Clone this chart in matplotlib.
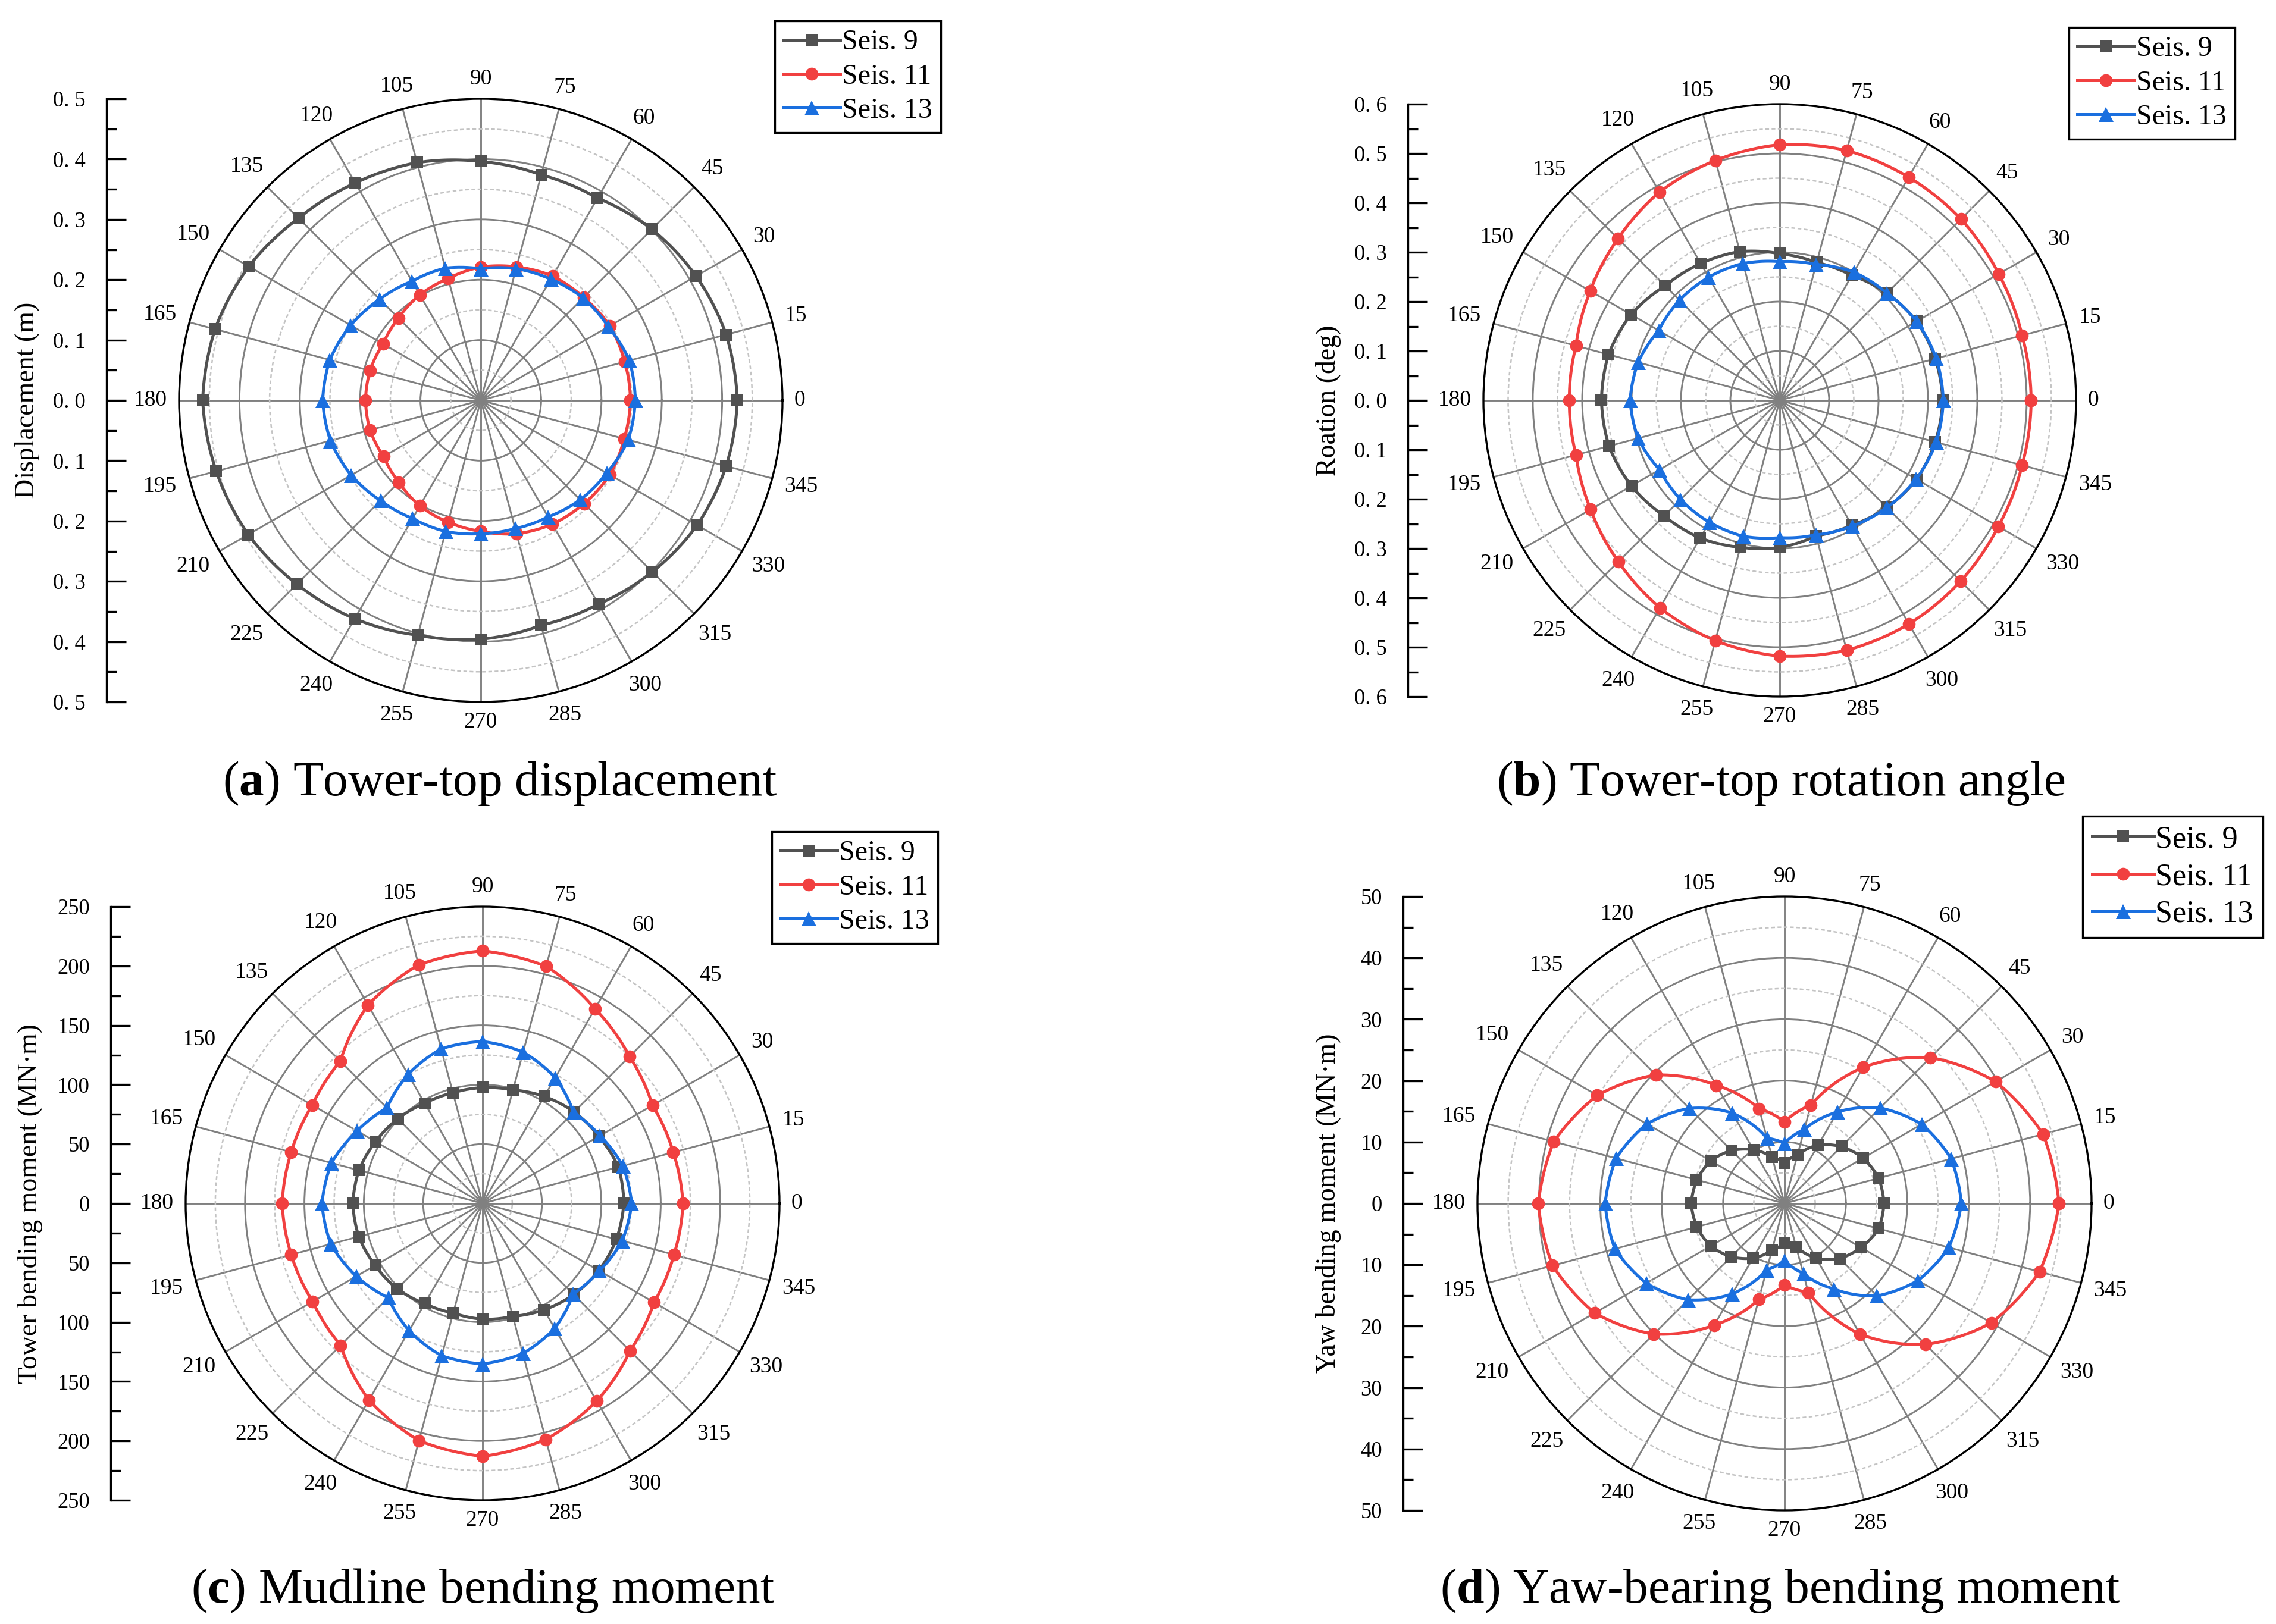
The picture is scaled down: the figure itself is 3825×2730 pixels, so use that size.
import numpy as np
import matplotlib
matplotlib.use('Agg')
import matplotlib.pyplot as plt

plt.rcParams['font.family'] = ['Liberation Serif', 'DejaVu Serif']
plt.rcParams['mathtext.fontset'] = 'custom'
plt.rcParams['mathtext.rm'] = 'Liberation Serif'
plt.rcParams['mathtext.bf'] = 'Liberation Serif:bold'

W, H, DPI = 3825, 2730, 300

# 方位角 (deg)
angles_deg = list(range(0, 360, 15))
series_names = ['Seis. 9', 'Seis. 11', 'Seis. 13']

# (a) 塔顶位移 (m)
disp_s9 = [0.425, 0.421, 0.412, 0.401, 0.387, 0.387, 0.396, 0.408, 0.416, 0.427, 0.444, 0.456,
           0.461, 0.454, 0.445, 0.431, 0.418, 0.403, 0.396, 0.386, 0.390, 0.402, 0.414, 0.421]
disp_s11 = [0.248, 0.247, 0.247, 0.241, 0.238, 0.229, 0.221, 0.209, 0.202, 0.193, 0.187, 0.190,
            0.191, 0.190, 0.186, 0.192, 0.202, 0.209, 0.217, 0.229, 0.237, 0.242, 0.247, 0.246]
disp_s13 = [0.256, 0.255, 0.244, 0.240, 0.232, 0.226, 0.218, 0.227, 0.228, 0.237, 0.249, 0.259,
            0.262, 0.258, 0.248, 0.235, 0.226, 0.225, 0.221, 0.220, 0.223, 0.233, 0.241, 0.253]

# (b) 塔顶转角 (deg)
rot_s9 = [0.330, 0.326, 0.320, 0.307, 0.292, 0.289, 0.297, 0.312, 0.320, 0.328, 0.348, 0.359,
          0.361, 0.358, 0.347, 0.331, 0.322, 0.308, 0.298, 0.284, 0.292, 0.307, 0.320, 0.326]
rot_s11 = [0.509, 0.508, 0.512, 0.519, 0.522, 0.524, 0.518, 0.503, 0.487, 0.463, 0.443, 0.427,
           0.426, 0.427, 0.442, 0.462, 0.485, 0.504, 0.518, 0.524, 0.523, 0.518, 0.511, 0.508]
rot_s13 = [0.331, 0.328, 0.320, 0.307, 0.300, 0.285, 0.281, 0.287, 0.288, 0.287, 0.283, 0.297,
           0.303, 0.297, 0.281, 0.284, 0.285, 0.285, 0.278, 0.282, 0.294, 0.307, 0.319, 0.328]

# (c) 泥面弯矩 (MN·m)
mud_s9 = [118.9, 118.4, 113.0, 109.0, 104.0, 98.8, 97.5, 96.4, 97.4, 100.9, 104.0, 107.8,
          109.2, 107.9, 104.4, 101.7, 97.4, 95.5, 97.5, 98.4, 103.4, 108.6, 113.0, 116.7]
mud_s11 = [168.7, 166.2, 165.2, 175.0, 189.3, 206.8, 212.7, 208.0, 192.9, 169.4, 165.6, 166.8,
           168.7, 166.8, 165.2, 169.0, 191.3, 206.8, 213.0, 205.7, 192.2, 175.6, 166.7, 166.8]
mud_s13 = [125.5, 122.2, 114.1, 108.3, 122.3, 131.9, 136.4, 134.8, 125.5, 113.8, 122.0, 131.7,
           135.2, 132.3, 122.7, 112.3, 123.8, 132.8, 135.2, 130.8, 121.5, 107.8, 113.5, 121.7]

# (d) 偏航轴承弯矩 (MN·m)
yaw_s9 = [16.2, 15.9, 14.8, 13.1, 11.0, 8.2, 6.6, 7.8, 10.1, 12.2, 13.9, 14.8,
          15.2, 14.8, 13.9, 12.3, 10.3, 7.9, 6.4, 7.3, 10.3, 12.7, 14.4, 15.9]
yaw_s11 = [44.7, 43.6, 39.7, 33.6, 25.6, 16.6, 13.3, 16.0, 22.2, 29.6, 35.2, 38.9,
           40.1, 39.1, 35.7, 30.1, 22.9, 16.2, 13.3, 15.0, 24.6, 32.5, 38.9, 43.0]
yaw_s13 = [28.8, 28.1, 25.8, 22.0, 17.2, 12.5, 9.8, 11.0, 17.0, 21.9, 25.9, 28.4,
           29.2, 28.6, 26.0, 22.2, 17.0, 11.2, 9.3, 11.8, 16.1, 21.3, 25.1, 27.7]

colors = ['#515151', '#F14040', '#1A6FDF']
markers = ['s', 'o', '^']
msizes = [4.6, 5.2, 6.0]


def dec_fmt(v):
    return f'{abs(v):.1f}'.replace('.', '. ')


def int_fmt(v):
    return f'{abs(v):.0f}'


# 布局参数 (像素)
panels = [
    dict(cx=808, cy=673, R=507, axis_x=179, ylab_x=46, rmax=0.5, major=0.1, fmt=dec_fmt,
         ylabel='Displacement (m)', data=(disp_s9, disp_s11, disp_s13),
         leg=(1302, 35), leg_fs=11.5, cap=r'($\mathbf{a}$) Tower-top displacement', cap_xy=(840, 1317)),
    dict(cx=2991, cy=673, R=498, axis_x=2366, ylab_x=2233, rmax=0.6, major=0.1, fmt=dec_fmt,
         ylabel='Roation (deg)', data=(rot_s9, rot_s11, rot_s13),
         leg=(3477, 46), leg_fs=11.5, cap=r'($\mathbf{b}$) Tower-top rotation angle', cap_xy=(2993, 1317)),
    dict(cx=811, cy=2023, R=499, axis_x=186, ylab_x=51, rmax=250, major=50, fmt=int_fmt,
         ylabel='Tower bending moment (MN·m)', data=(mud_s9, mud_s11, mud_s13),
         leg=(1297, 1398), leg_fs=11.5, cap=r'($\mathbf{c}$) Mudline bending moment', cap_xy=(812, 2674)),
    dict(cx=2999, cy=2023, R=516, axis_x=2358, ylab_x=2233, rmax=50, major=10, fmt=int_fmt,
         ylabel='Yaw bending moment (MN·m)', data=(yaw_s9, yaw_s11, yaw_s13),
         leg=(3500, 1372), leg_fs=12.5, cap=r'($\mathbf{d}$) Yaw-bearing bending moment', cap_xy=(2992, 2674)),
]

fig = plt.figure(figsize=(W / DPI, H / DPI), dpi=DPI)


def draw_panel(p):
    R = p['R']
    rmax, major = p['rmax'], p['major']
    n = int(round(rmax / major))
    bottom = 1 - (p['cy'] + R) / H

    ax = fig.add_axes([(p['cx'] - R) / W, bottom, 2 * R / W, 2 * R / H], projection='polar')
    ax.set_ylim(0, rmax)
    ax.set_yticks(np.arange(1, n) * major)
    ax.set_yticks((np.arange(n) + 0.5) * major, minor=True)
    ax.set_yticklabels([])
    ax.yaxis.grid(True, which='major', color='#808080', lw=0.7, ls='-')
    ax.yaxis.grid(True, which='minor', color='#c4c4c4', lw=0.6, ls=(0, (2.5, 1.7)))
    ax.tick_params(axis='y', which='both', length=0)

    ax.set_xticks(np.deg2rad(angles_deg))
    ax.set_xticks(np.deg2rad(np.arange(7.5, 360, 15)), minor=True)
    ax.set_xticklabels([])
    ax.xaxis.grid(True, which='major', color='#808080', lw=0.7)
    ax.tick_params(axis='x', which='major', direction='in', length=4.6, width=0.7, color='black')
    ax.tick_params(axis='x', which='minor', direction='in', length=2.4, width=0.6, color='black')
    ax.spines['polar'].set_linewidth(0.8)

    th = np.deg2rad(angles_deg + [360])
    for vals, name, c, m, ms in zip(p['data'], series_names, colors, markers, msizes):
        line, = ax.plot(th, list(vals) + [vals[0]], color=c, lw=1.2, marker=m, ms=ms,
                        markeredgewidth=0, label=name, zorder=3)
        # 让极坐标下的连线沿角度方向弯曲，而不是直线
        line.get_path()._interpolation_steps = 40

    # 角度标签
    fs = 9
    em = fs * DPI / 72
    for a in angles_deg:
        t = np.deg2rad(a)
        lab = str(a)
        w = 0.5 * em * len(lab)
        h = 0.72 * em
        off = (20 + abs(np.cos(t)) * w / 2 + abs(np.sin(t)) * h / 2) * 72 / DPI
        ax.annotate(lab, xy=(t, rmax), xytext=(off * np.cos(t), off * np.sin(t)),
                    textcoords='offset points', ha='center', va='center',
                    fontsize=fs, annotation_clip=False)

    # 左侧径向标尺
    axl = fig.add_axes([p['axis_x'] / W, bottom, 0.02, 2 * R / H])
    axl.set_ylim(-rmax, rmax)
    for s in ['top', 'right', 'bottom']:
        axl.spines[s].set_visible(False)
    axl.spines['left'].set_linewidth(0.8)
    axl.patch.set_visible(False)
    axl.set_xticks([])
    ticks = np.arange(-n, n + 1) * major
    axl.set_yticks(ticks)
    axl.set_yticklabels([p['fmt'](v) for v in ticks])
    axl.set_yticks(np.arange(-2 * n, 2 * n + 1) * major / 2, minor=True)
    axl.tick_params(axis='y', which='major', direction='in', length=7.8, width=0.8,
                    pad=8.4, labelsize=8.8)
    axl.tick_params(axis='y', which='minor', direction='in', length=4.0, width=0.8)

    fig.text(p['ylab_x'] / W, 1 - p['cy'] / H, p['ylabel'], rotation=90,
             ha='center', va='center', fontsize=11)

    handles, labels = ax.get_legend_handles_labels()
    leg = fig.legend(handles, labels, loc='upper left',
                     bbox_to_anchor=(p['leg'][0] / W, 1 - p['leg'][1] / H),
                     bbox_transform=fig.transFigure, fontsize=p['leg_fs'],
                     frameon=True, fancybox=False, edgecolor='black', framealpha=1,
                     borderpad=0.3, labelspacing=0.28, handlelength=2.0,
                     handletextpad=0.05, borderaxespad=0)
    leg.get_frame().set_linewidth(0.8)

    fig.text(p['cap_xy'][0] / W, 1 - p['cap_xy'][1] / H, p['cap'],
             ha='center', va='center', fontsize=20)


for p in panels:
    draw_panel(p)

fig.savefig('out.png', dpi=DPI)
